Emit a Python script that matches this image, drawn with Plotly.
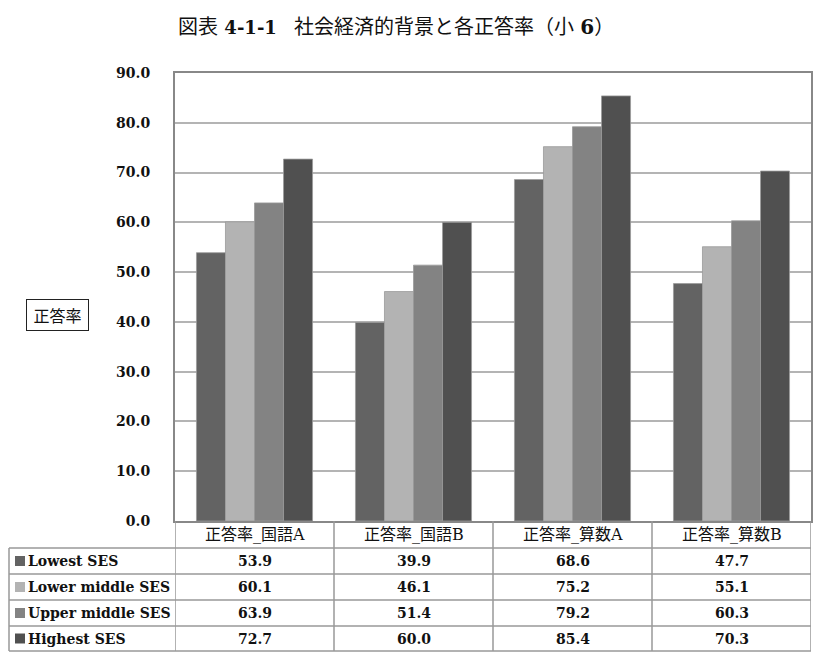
import plotly.graph_objects as go

# データ（図表 4-1-1 小6）
categories = ["正答率_国語A", "正答率_国語B", "正答率_算数A", "正答率_算数B"]
ses_groups = ["Lowest SES", "Lower middle SES", "Upper middle SES", "Highest SES"]
lowest = [53.9, 39.9, 68.6, 47.7]
lower_middle = [60.1, 46.1, 75.2, 55.1]
upper_middle = [63.9, 51.4, 79.2, 60.3]
highest = [72.7, 60.0, 85.4, 70.3]
y_ticks = [0, 10, 20, 30, 40, 50, 60, 70, 80, 90]

series = [lowest, lower_middle, upper_middle, highest]
colors = ["#636363", "#b3b3b3", "#838383", "#505050"]

# ページの body 余白 (8px) を差し引いた図のサイズ
OFF = 8
W, H = 832 - OFF, 662 - OFF
SERIF = "DejaVu Serif, Noto Sans CJK JP, serif"
JP = "Noto Sans CJK JP, sans-serif"


def px(x):
    return (x - OFF) / W


def py(y):
    return 1 - (y - OFF) / H


# plot area in pixels (screen coords)
PX0, PX1, PY0, PY1 = 175, 811, 73, 521
TABLE_LEFT = 9
row_lines = [548, 574, 600, 626, 651]
line_col = "#999999"

fig = go.Figure()

for name, vals, col in zip(ses_groups, series, colors):
    fig.add_trace(go.Bar(
        x=categories, y=vals, name=name,
        marker=dict(color=col, line=dict(color="#9a9a9a", width=0.8)),
        showlegend=False,
    ))

shapes = []
annotations = []

# 表の横線
for yy in row_lines:
    shapes.append(dict(type="line", xref="paper", yref="paper",
                       x0=px(TABLE_LEFT), x1=px(PX1), y0=py(yy), y1=py(yy),
                       line=dict(color=line_col, width=1.5)))
# 表の縦線（カテゴリ境界）
for b in [-0.5, 0.5, 1.5, 2.5, 3.5]:
    shapes.append(dict(type="line", xref="x", yref="paper",
                       x0=b, x1=b, y0=py(PY1), y1=py(row_lines[-1]),
                       line=dict(color=line_col, width=1.5)))
shapes.append(dict(type="line", xref="paper", yref="paper",
                   x0=px(TABLE_LEFT), x1=px(TABLE_LEFT),
                   y0=py(row_lines[0]), y1=py(row_lines[-1]),
                   line=dict(color=line_col, width=1.5)))

# 見出し行
for c in categories:
    annotations.append(dict(x=c, xref="x", y=py((PY1 + row_lines[0]) / 2), yref="paper",
                            xanchor="center", yanchor="middle",
                            text=c, showarrow=False,
                            font=dict(family=SERIF, size=16, color="#111111")))

# 値の行
for r, (name, vals, col) in enumerate(zip(ses_groups, series, colors)):
    yc = (row_lines[r] + row_lines[r + 1]) / 2
    shapes.append(dict(type="rect", xref="paper", yref="paper",
                       x0=px(15), x1=px(25), y0=py(yc - 5), y1=py(yc + 5),
                       fillcolor=col, line=dict(width=0)))
    annotations.append(dict(x=px(26), xref="paper", y=py(yc), yref="paper",
                            xanchor="left", yanchor="middle",
                            text="<b>%s</b>" % name, showarrow=False,
                            font=dict(family=SERIF, size=14, color="#111111")))
    for c, v in zip(categories, vals):
        annotations.append(dict(x=c, xref="x", y=py(yc), yref="paper",
                                xanchor="center", yanchor="middle",
                                text="<b>%.1f</b>" % v, showarrow=False,
                                font=dict(family=SERIF, size=14, color="#111111")))

# タイトル
annotations.append(dict(x=px(176), xref="paper", y=py(27), yref="paper",
                        xanchor="left", yanchor="middle",
                        text="図表 <b><span style='font-size:18px'>4-1-1</span></b>",
                        showarrow=False,
                        font=dict(family=SERIF, size=20, color="#111111")))
annotations.append(dict(x=px(292), xref="paper", y=py(27), yref="paper",
                        xanchor="left", yanchor="middle",
                        text="社会経済的背景と各正答率（小 <b>6</b>）",
                        showarrow=False,
                        font=dict(family=SERIF, size=20, color="#111111")))
# 縦軸ラベル
annotations.append(dict(x=px(57.5), xref="paper", y=py(315), yref="paper",
                        xanchor="center", yanchor="middle",
                        text=" 正答率 ", showarrow=False,
                        bordercolor="#222222", borderwidth=1, borderpad=3,
                        font=dict(family=JP, size=16, color="#111111")))

fig.update_layout(
    width=W, height=H,
    margin=dict(l=0, r=0, t=0, b=0),
    paper_bgcolor="white", plot_bgcolor="white",
    barmode="group", bargap=0.27, bargroupgap=0,
    xaxis=dict(domain=[px(PX0), px(PX1)], range=[-0.5, 3.5],
               showticklabels=False, showgrid=False, automargin=False,
               showline=True, mirror=True, linecolor="#888888", linewidth=2),
    yaxis=dict(domain=[py(PY1), py(PY0)], range=[0, 90],
               tickvals=y_ticks, ticktext=["<b>%.1f</b>" % t for t in y_ticks],
               tickfont=dict(family=SERIF, size=14, color="#111111"),
               ticklabelstandoff=20, automargin=False,
               showgrid=True, gridcolor="#b4b4b4", gridwidth=1.5,
               zeroline=False,
               showline=True, mirror=True, linecolor="#888888", linewidth=2),
    shapes=shapes, annotations=annotations,
)

fig.write_html("out.html")
